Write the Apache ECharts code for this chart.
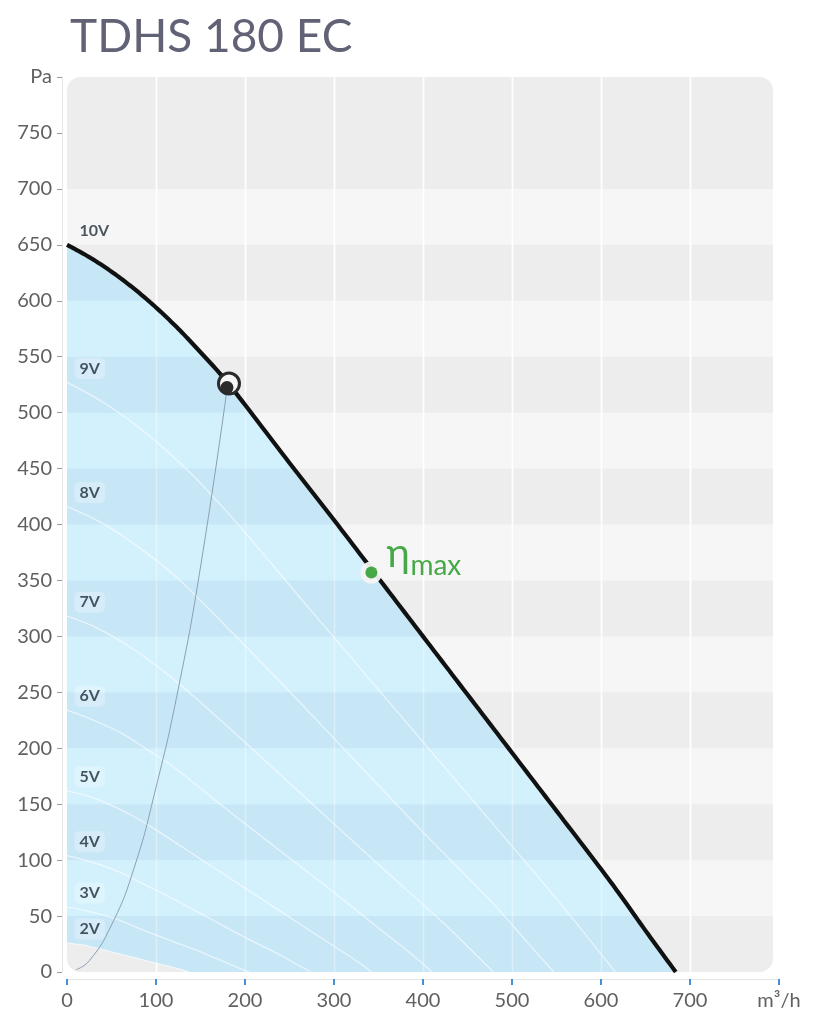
<!DOCTYPE html>
<html>
<head>
<meta charset="utf-8">
<script src="https://cdn.jsdelivr.net/npm/echarts@6/dist/echarts.min.js"></script>
<style>
  html, body { margin: 0; padding: 0; background: #ffffff; }
  #chart { width: 817px; height: 1024px; }
</style>
</head>
<body>
<div id="chart"></div>
<script>
// ---- data (flow m³/h, pressure Pa) ----
const title = 'TDHS 180 EC';
const xTicks = [0, 100, 200, 300, 400, 500, 600, 700, 800];
const yTicks = [0, 50, 100, 150, 200, 250, 300, 350, 400, 450, 500, 550, 600, 650, 700, 750, 800];
const xUnit = 'm³/h';
const yUnit = 'Pa';

const curve10V = [[0,650],[25,639],[50,626],[75,611],[100,594],[125,575],[150,554],[175,532],[200,507],[250,455],[300,404],[350,352],[400,300],[450,248],[500,196],[550,144],[600,92],[625,65],[650,37],[684,0]];
const curve9V = [[0,527],[45,507],[90,481],[135,449],[180,411],[270,327],[360,243],[450,159],[540,75],[585,31],[616,0]];
const curve8V = [[0,416],[40,401],[80,380],[120,355],[160,324],[240,259],[320,192],[400,125],[480,60],[520,24],[547,0]];
const curve7V = [[0,318],[35,307],[70,291],[105,271],[140,248],[210,198],[280,147],[350,96],[420,46],[455,19],[479,0]];
const curve6V = [[0,234],[30,225],[60,214],[90,199],[120,183],[180,145],[240,108],[300,71],[360,33],[390,14],[410,0]];
const curve5V = [[0,162],[25,157],[50,149],[75,139],[100,127],[150,101],[200,75],[250,49],[300,23],[325,10],[342,0]];
const curve4V = [[0,104],[20,100],[40,95],[60,89],[80,81],[120,65],[160,48],[200,31],[240,15],[260,6],[274,0]];
const curve3V = [[0,58],[15,56],[30,53],[45,50],[60,46],[90,36],[120,27],[150,18],[180,8],[195,3],[205,0]];
const curve2V = [[0,26],[10,25],[20,24],[30,22],[40,20],[60,16],[80,12],[100,8],[120,4],[130,2],[137,0]];

const voltageNames = ['10V','9V','8V','7V','6V','5V','4V','3V','2V'];
const voltageCurves = [curve10V, curve9V, curve8V, curve7V, curve6V, curve5V, curve4V, curve3V, curve2V];

const systemCurve = [[10,2],[25,10],[50,42],[75,92],[100,165],[125,253],[150,362],[180,522]];
const operatingPoint = [182, 526];
const etaMaxPoint = [342, 357];

// ---- styling helpers ----
const xMax = xTicks[xTicks.length - 1];
const yMax = yTicks[yTicks.length - 1];
// darker plot bands; the top band spans two tick steps
const darkBands = [];
for (let i = 0; i + 1 < yTicks.length - 2; i += 2) darkBands.push([yTicks[i], yTicks[i + 1]]);
darkBands.push([yTicks[yTicks.length - 3], yMax]);

const FONT = 'Lato, "Open Sans", sans-serif';
const R = 14;
const GRAY_LIGHT = '#f6f6f6', GRAY_DARK = '#ededed';
const BLUE_LIGHT = '#d3f1fd', BLUE_DARK = '#c7e7f7';

// Catmull-Rom curve through pixel points, flattened for drawing
function flattenSmooth(p, steps) {
  const out = [p[0]];
  for (let i = 0; i < p.length - 1; i++) {
    const p0 = p[i - 1] || p[i], p1 = p[i], p2 = p[i + 1], p3 = p[i + 2] || p[i + 1];
    const c1 = [p1[0] + (p2[0] - p0[0]) / 6, p1[1] + (p2[1] - p0[1]) / 6];
    const c2 = [p2[0] - (p3[0] - p1[0]) / 6, p2[1] - (p3[1] - p1[1]) / 6];
    for (let s = 1; s <= steps; s++) {
      const t = s / steps, u = 1 - t;
      const a = u * u * u, b = 3 * u * u * t, c = 3 * u * t * t, d = t * t * t;
      out.push([a * p1[0] + b * c1[0] + c * c2[0] + d * p2[0],
                a * p1[1] + b * c1[1] + c * c2[1] + d * p2[1]]);
    }
  }
  return out;
}
// clip polygon against a horizontal line (pixel space)
function clipY(poly, yLine, keepBelow) {
  const out = [];
  for (let i = 0; i < poly.length; i++) {
    const A = poly[i], B = poly[(i + 1) % poly.length];
    const inA = keepBelow ? A[1] >= yLine : A[1] <= yLine;
    const inB = keepBelow ? B[1] >= yLine : B[1] <= yLine;
    if (inA) out.push(A);
    if (inA !== inB) {
      const t = (yLine - A[1]) / (B[1] - A[1]);
      out.push([A[0] + t * (B[0] - A[0]), yLine]);
    }
  }
  return out;
}

function bandRadius(lo, hi) {
  if (hi === yMax) return [R, R, 0, 0];
  if (lo === 0) return [0, 0, R, R];
  return 0;
}

function renderBackground(params, api) {
  const cs = params.coordSys;
  const W = cs.width - 6;
  const children = [{
    type: 'rect',
    shape: { x: cs.x, y: cs.y, width: W, height: cs.height, r: R },
    style: { fill: GRAY_LIGHT }
  }];
  darkBands.forEach(([lo, hi]) => {
    const yTop = api.coord([0, hi])[1];
    const yBot = api.coord([0, lo])[1];
    children.push({
      type: 'rect',
      shape: { x: cs.x, y: yTop, width: W, height: yBot - yTop, r: bandRadius(lo, hi) },
      style: { fill: GRAY_DARK }
    });
  });
  xTicks.forEach(v => {
    if (v > 0 && v < xMax) {
      const x = Math.round(api.coord([v, 0])[0]) + 0.5;
      children.push({
        type: 'line',
        shape: { x1: x, y1: cs.y, x2: x, y2: cs.y + cs.height },
        style: { stroke: '#ffffff', lineWidth: 1.6 }
      });
    }
  });
  return { type: 'group', children: children };
}

function renderFill(params, api) {
  const cs = params.coordSys;
  const top = flattenSmooth(curve10V.map(p => api.coord(p)), 12);
  const bot = flattenSmooth(curve2V.slice().reverse().map(p => api.coord(p)), 12);
  const poly = top.concat(bot);
  const children = [{ type: 'polygon', shape: { points: poly }, style: { fill: BLUE_LIGHT } }];
  darkBands.forEach(([lo, hi]) => {
    const yTop = api.coord([0, hi])[1];
    const yBot = api.coord([0, lo])[1];
    const part = clipY(clipY(poly, yTop, true), yBot, false);
    if (part.length > 2) {
      children.push({ type: 'polygon', shape: { points: part }, style: { fill: BLUE_DARK } });
    }
  });
  // faint grid lines showing through the blue area
  xTicks.forEach(v => {
    if (v > 0 && v < xMax) {
      const x = Math.round(api.coord([v, 0])[0]) + 0.5;
      children.push({
        type: 'line',
        shape: { x1: x, y1: cs.y, x2: x, y2: cs.y + cs.height },
        style: { stroke: 'rgba(255,255,255,0.35)', lineWidth: 1.6 }
      });
    }
  });
  return { type: 'group', children: children };
}

function renderMainCurve(params, api) {
  const pts = flattenSmooth(curve10V.map(p => api.coord(p)), 12);
  return {
    type: 'polyline',
    shape: { points: pts },
    style: { fill: null, stroke: '#111111', lineWidth: 4.2, lineJoin: 'round' }
  };
}

const isoSeries = voltageCurves.slice(1).map((c, i) => ({
  type: 'line',
  name: voltageNames[i + 1],
  data: c,
  z: 3,
  smooth: 0.4,
  showSymbol: false,
  silent: true,
  lineStyle: { color: 'rgba(255,255,255,0.6)', width: 1.3 }
}));

const labelData = voltageCurves.map((c, i) => ({
  name: voltageNames[i],
  value: c[0],
  label: i === 0 ? { backgroundColor: 'transparent' } : {}
}));

const chart = echarts.init(document.getElementById('chart'), null, { renderer: 'canvas' });
chart.setOption({
  animation: false,
  backgroundColor: '#ffffff',
  title: {
    text: title,
    left: 65,
    top: 9,
    textStyle: { fontFamily: FONT, fontSize: 46, fontWeight: 'normal', color: '#626276' }
  },
  grid: { left: 67, right: 38, top: 77, bottom: 52 },
  xAxis: {
    type: 'value',
    min: 0, max: xMax, interval: 100,
    offset: 7,
    axisLine: { show: true, onZero: false, lineStyle: { color: '#e6e6e6', width: 1 } },
    axisTick: { show: true, length: 6, lineStyle: { color: '#4a8fd6', width: 2 } },
    axisLabel: {
      fontFamily: FONT, fontSize: 20, color: '#606060', margin: 12,
      formatter: v => (v === xMax ? xUnit : String(v))
    },
    splitLine: { show: false }
  },
  yAxis: {
    type: 'value',
    min: 0, max: yMax, interval: 50,
    offset: 5,
    axisLine: { show: true, onZero: false, lineStyle: { color: '#e6e6e6', width: 1 } },
    axisTick: { show: true, length: 5, lineStyle: { color: '#999999', width: 1 } },
    axisLabel: {
      fontFamily: FONT, fontSize: 20, color: '#606060', margin: 10,
      formatter: v => (v === yMax ? yUnit : String(v))
    },
    splitLine: { show: false }
  },
  series: [
    { type: 'custom', name: 'bg', z: 1, silent: true, data: [[0, 0]], renderItem: renderBackground },
    { type: 'custom', name: 'fill', z: 2, silent: true, data: [[0, 0]], renderItem: renderFill },
    ...isoSeries,
    {
      type: 'line', name: 'system', data: systemCurve, z: 3, smooth: true,
      showSymbol: false, silent: true,
      lineStyle: { color: '#8c9fb2', width: 1 }
    },
    { type: 'custom', name: '10V', z: 4, silent: true, data: [[0, 0]], renderItem: renderMainCurve },
    {
      type: 'scatter', name: 'op', z: 5, silent: true,
      data: [operatingPoint],
      symbolSize: 21,
      itemStyle: { color: '#f7f7f7', borderColor: '#2b2b2b', borderWidth: 3, opacity: 1 }
    },
    {
      type: 'scatter', name: 'opdot', z: 5, silent: true,
      data: [operatingPoint],
      symbolSize: 13, symbolOffset: [-2, 4],
      itemStyle: { color: '#2b2b2b', opacity: 1 }
    },
    {
      type: 'scatter', name: 'etahalo', z: 5, silent: true,
      data: [etaMaxPoint],
      symbolSize: 22,
      itemStyle: { color: 'rgba(244,244,244,0.95)', opacity: 1 },
      label: {
        show: true, position: 'right', distance: 4, offset: [0, -19],
        formatter: 'η',
        fontFamily: FONT, fontSize: 40, color: '#46a846'
      }
    },
    {
      type: 'scatter', name: 'eta', z: 6, silent: true,
      data: [etaMaxPoint],
      symbolSize: 12,
      itemStyle: { color: '#46a846', opacity: 1 },
      label: {
        show: true, position: 'right', distance: 33, offset: [0, -7],
        formatter: 'max',
        fontFamily: FONT, fontSize: 28, color: '#46a846'
      }
    },
    {
      type: 'scatter', name: 'vlabels', z: 7, silent: true,
      data: labelData,
      symbolSize: 1,
      itemStyle: { color: 'rgba(0,0,0,0)' },
      label: {
        show: true, position: 'right', distance: 5, offset: [2, -14],
        formatter: p => p.name,
        fontFamily: FONT, fontSize: 16, fontWeight: 'bold', color: '#1d2b36',
        backgroundColor: 'rgba(255,255,255,0.35)', borderRadius: 5, padding: [3, 5, 2, 5]
      }
    }
  ]
});
</script>
</body>
</html>
